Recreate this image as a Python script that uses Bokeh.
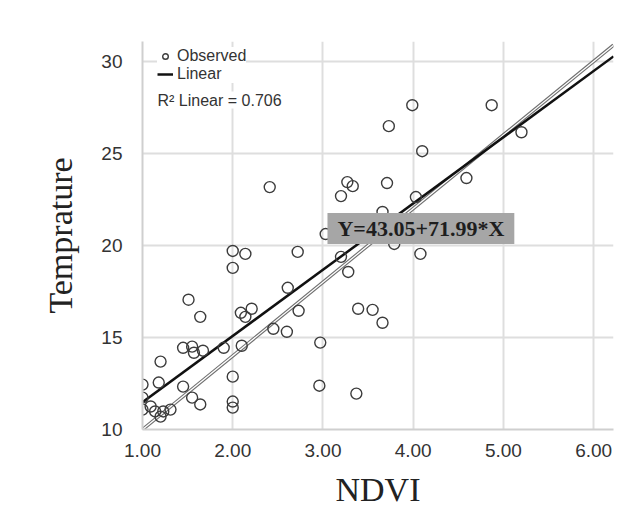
from bokeh.plotting import figure
from bokeh.models import Range1d, Label, Legend, LegendItem, NumeralTickFormatter, FixedTicker
from bokeh.embed import file_html
from bokeh.resources import INLINE

# ---- data ----
ndvi = [1.00, 1.00, 1.00, 1.20, 1.18, 1.09, 1.14, 1.23, 1.31, 1.20,
        1.45, 1.55, 1.64, 1.45, 1.55, 1.57, 1.67, 1.90, 2.10, 1.51,
        1.64, 2.00, 2.14, 2.00, 2.00, 2.00, 2.00, 2.09, 2.14, 2.21,
        2.41, 2.45, 2.60, 2.61, 2.72, 2.73, 2.97, 2.96, 3.03, 3.20,
        3.27, 3.33, 3.20, 3.28, 3.39, 3.55, 3.66, 3.37, 3.66, 3.79,
        3.71, 3.73, 3.99, 4.10, 4.03, 4.08, 4.59, 4.87, 5.20]
temp = [12.44, 11.73, 11.08, 13.69, 12.55, 11.25, 10.98, 10.98, 11.08, 10.70,
        12.33, 11.73, 11.36, 14.44, 14.50, 14.17, 14.28, 14.44, 14.55, 17.05,
        16.12, 19.70, 19.54, 18.78, 12.87, 11.52, 11.19, 16.34, 16.12, 16.56,
        23.17, 15.47, 15.31, 17.70, 19.65, 16.45, 14.72, 12.38, 20.62, 22.68,
        23.44, 23.22, 19.38, 18.56, 16.56, 16.50, 15.80, 11.95, 21.82, 20.08,
        23.39, 26.48, 27.62, 25.12, 22.63, 19.54, 23.66, 27.62, 26.15]

fit_x = [1.00, 6.22]
fit_y = [11.48, 30.27]
ref_x = [1.00, 6.22]
ref_y = [10.00, 30.88]

x_ticks = [1, 2, 3, 4, 5, 6]
y_ticks = [10, 15, 20, 25, 30]

r2_text = "R\u00b2 Linear = 0.706"
eq_text = "Y=43.05+71.99*X"

# ---- figure ----
p = figure(width=614, height=510, output_backend="svg", toolbar_location=None,
           x_range=Range1d(1.0, 6.22), y_range=Range1d(10.0, 31.08),
           min_border_left=142, min_border_right=1, min_border_top=41,
           min_border_bottom=80)
p.outline_line_color = None
p.background_fill_color = "white"
p.border_fill_color = "white"

for ax in (p.xaxis[0], p.yaxis[0]):
    ax.axis_line_color = "#cfcfcf"
    ax.axis_line_width = 2
    ax.major_tick_line_color = None
    ax.minor_tick_line_color = None
    ax.major_label_text_font = "Liberation Sans"
    ax.major_label_text_font_size = "19px"
    ax.major_label_text_color = "#333333"
    ax.axis_label_text_font = "Liberation Serif"
    ax.axis_label_text_font_size = "34px"
    ax.axis_label_text_font_style = "normal"
    ax.axis_label_text_color = "#222222"

p.xaxis.ticker = FixedTicker(ticks=x_ticks)
p.yaxis.ticker = FixedTicker(ticks=y_ticks)
p.xaxis.formatter = NumeralTickFormatter(format="0.00")
p.xaxis.major_label_standoff = 8
p.yaxis.major_label_standoff = 14
p.xaxis.axis_label = "NDVI"
p.yaxis.axis_label = "Temprature"
p.xaxis.axis_label_standoff = 11
p.yaxis.axis_label_standoff = 19

p.grid.grid_line_color = "#dedede"
p.grid.grid_line_width = 2
p.xgrid.ticker = FixedTicker(ticks=x_ticks)
p.ygrid.ticker = FixedTicker(ticks=y_ticks)

# reference (double) line
p.line(ref_x, ref_y, line_color="#6e6e6e", line_width=3.5)
p.line(ref_x, ref_y, line_color="white", line_width=1.3)
# linear fit
fit_r = p.line(fit_x, fit_y, line_color="#111111", line_width=2.5)
# observed points
obs_r = p.scatter(ndvi, temp, marker="circle", size=11, fill_color=None,
                  line_color="#3c3c3c", line_width=1.4)

legend = Legend(items=[LegendItem(label="Observed", renderers=[obs_r]),
                       LegendItem(label="Linear", renderers=[fit_r])],
                location=(15, 346))
legend.margin = 0
legend.padding = 5
legend.spacing = 0
legend.glyph_width = 16
legend.glyph_height = 14
legend.label_height = 14
legend.label_standoff = 4
legend.label_text_font = "Liberation Sans"
legend.label_text_font_size = "16px"
legend.label_text_color = "#333333"
legend.border_line_color = None
legend.background_fill_color = "white"
legend.background_fill_alpha = 1.0
p.add_layout(legend)

p.add_layout(Label(x=15, y=321, x_units="screen", y_units="screen", text=r2_text,
                   text_font="Liberation Sans", text_font_size="16px",
                   text_color="#333333", background_fill_color="white"))

p.add_layout(Label(x=3.05, y=20.08, text=eq_text, text_font="Liberation Serif",
                   text_font_size="22px", text_font_style="bold", text_color="#1e1e1e",
                   background_fill_color="#a6a6a6", padding=(10, 3)))

open("out.html", "w").write(file_html(p, INLINE))
